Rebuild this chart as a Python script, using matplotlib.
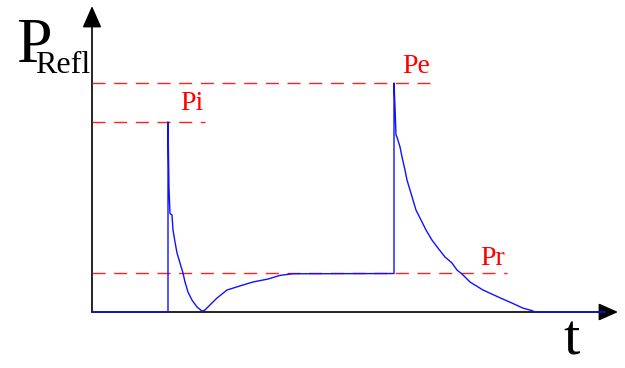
import matplotlib
matplotlib.use("Agg")
import matplotlib.pyplot as plt

# Reflected power levels (normalised to Pe)
level_names = ["Pi", "Pe", "Pr"]
level_values = [0.83, 1.0, 0.17]
level_extent = [113, 338, 415]          # how far each dashed reference line runs along t

# Reflected power trace P_Refl(t)
t_vals = [0, 76, 76, 77, 78, 80, 81, 83, 85, 88, 91, 93, 96, 100, 105, 110,
          113, 118, 125, 135, 148, 161, 176, 188, 201, 302,
          302, 303, 304, 305, 308, 310, 313, 315, 318, 321, 324, 329, 334,
          340, 346, 353, 360, 365, 370, 378, 391, 406, 420, 431, 440, 443, 513]
p_vals = [0.0, 0.0, 0.83, 0.54, 0.43, 0.424, 0.358, 0.306, 0.258, 0.214, 0.170,
          0.131, 0.087, 0.052, 0.022, 0.004, 0.009, 0.031, 0.061, 0.096, 0.114,
          0.131, 0.144, 0.160, 0.167, 0.168,
          1.0, 0.895, 0.773, 0.764, 0.721, 0.677, 0.620, 0.576, 0.533, 0.489,
          0.445, 0.402, 0.358, 0.314, 0.279, 0.240, 0.214, 0.183, 0.166, 0.131,
          0.096, 0.066, 0.039, 0.017, 0.006, 0.0, 0.0]

# Label anchor positions (t, P) for the level names
label_t = [88, 310, 388]
label_p = [0.882, 1.044, 0.205]

fig = plt.figure(figsize=(6.25, 3.68), dpi=100)
ax = fig.add_axes([0, 0, 1, 1])
ax.set_xlim(-92, 533)
ax.set_ylim(-0.2445, 1.3624)
ax.axis("off")

serif = ["Liberation Serif", "DejaVu Serif"]

# Coordinate axes with arrow heads
ax.annotate("", xy=(0, 1.336), xytext=(0, 0),
            arrowprops=dict(arrowstyle="-|>,head_length=0.95,head_width=0.42",
                            mutation_scale=14, lw=1.2, color="black",
                            shrinkA=0, shrinkB=0), zorder=1)
ax.annotate("", xy=(526, 0), xytext=(0, 0),
            arrowprops=dict(arrowstyle="-|>,head_length=0.85,head_width=0.38",
                            mutation_scale=14, lw=1.2, color="black",
                            shrinkA=0, shrinkB=0), zorder=1)

# Dashed reference levels
for val, ext in zip(level_values, level_extent):
    ax.plot([0, ext], [val, val], color="#ff2020", lw=1.0,
            dashes=(9.4, 6.2), zorder=2)

# Reflected power trace
ax.plot(t_vals, p_vals, color="#1010ff", lw=1.0, zorder=3)

# Level labels
for name, tx, py in zip(level_names, label_t, label_p):
    ax.text(tx, py, name, color="red", fontsize=20, family=serif,
            ha="left", va="baseline")

# Axis labels
ax.text(-76, 1.092, "P", fontsize=46, family=serif, ha="left", va="baseline")
ax.text(-57, 1.045, "Refl", fontsize=23, family=serif, ha="left", va="baseline")
ax.text(471, -0.186, "t", fontsize=42, family=serif, ha="left", va="baseline")

fig.savefig("out.png", dpi=100)
